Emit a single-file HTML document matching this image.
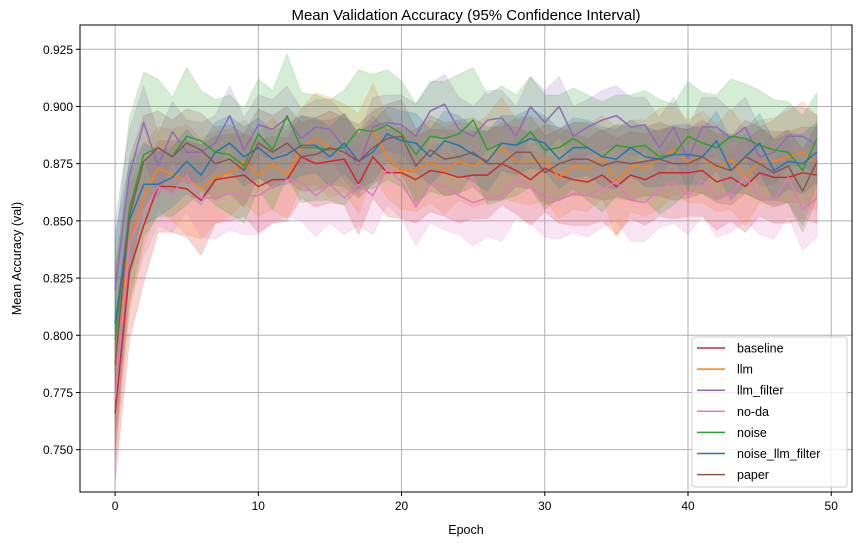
<!DOCTYPE html>
<html><head><meta charset="utf-8"><style>
body{margin:0;background:#fff;}
svg{display:block;font-family:"Liberation Sans","DejaVu Sans",sans-serif;}
</style></head><body>
<svg id="chart" width="863" height="547" viewBox="0 0 863 547" xmlns="http://www.w3.org/2000/svg"></svg>
<script>
const epochs = Array.from({length:50},(_,i)=>i);
const seriesNames = ["baseline","llm","llm_filter","no-da","noise","noise_llm_filter","paper"];
const seriesColors = ["#d62728","#ff7f0e","#9467bd","#e377c2","#2ca02c","#1f77b4","#8c564b"];
const baseline = [0.766,0.828,0.848,0.865,0.865,0.864,0.859,0.868,0.869,0.870,0.865,0.868,0.868,0.878,0.875,0.876,0.877,0.866,0.878,0.871,0.871,0.868,0.872,0.871,0.869,0.870,0.870,0.875,0.872,0.868,0.873,0.870,0.868,0.867,0.870,0.865,0.870,0.868,0.871,0.871,0.871,0.872,0.867,0.869,0.865,0.871,0.869,0.869,0.871,0.870];
const llm = [0.790,0.840,0.861,0.873,0.870,0.868,0.864,0.869,0.871,0.876,0.870,0.875,0.870,0.882,0.886,0.882,0.882,0.875,0.890,0.878,0.872,0.872,0.876,0.872,0.876,0.874,0.877,0.882,0.876,0.876,0.877,0.869,0.874,0.873,0.878,0.867,0.874,0.873,0.877,0.881,0.876,0.878,0.873,0.877,0.869,0.876,0.876,0.878,0.880,0.875];
const llmFilter = [0.820,0.870,0.893,0.874,0.889,0.880,0.880,0.884,0.896,0.881,0.892,0.890,0.895,0.886,0.891,0.890,0.882,0.874,0.891,0.893,0.892,0.887,0.898,0.901,0.890,0.887,0.894,0.895,0.887,0.900,0.893,0.900,0.887,0.891,0.894,0.896,0.891,0.892,0.882,0.891,0.877,0.891,0.891,0.886,0.891,0.878,0.880,0.887,0.887,0.883];
const noDa = [0.772,0.840,0.855,0.865,0.862,0.870,0.860,0.860,0.862,0.861,0.861,0.865,0.868,0.867,0.861,0.866,0.860,0.866,0.861,0.873,0.867,0.856,0.866,0.865,0.861,0.858,0.860,0.861,0.868,0.865,0.861,0.859,0.862,0.861,0.864,0.867,0.859,0.858,0.864,0.867,0.861,0.868,0.860,0.862,0.869,0.861,0.859,0.869,0.855,0.860];
const noise = [0.798,0.855,0.879,0.882,0.878,0.887,0.885,0.880,0.879,0.874,0.888,0.881,0.896,0.882,0.882,0.881,0.882,0.890,0.889,0.892,0.888,0.879,0.887,0.886,0.888,0.894,0.881,0.884,0.883,0.889,0.881,0.882,0.886,0.882,0.878,0.883,0.882,0.883,0.878,0.879,0.887,0.884,0.882,0.887,0.886,0.883,0.881,0.880,0.872,0.886];
const noiseLlmFilter = [0.805,0.850,0.866,0.866,0.869,0.876,0.870,0.880,0.884,0.878,0.882,0.877,0.879,0.883,0.883,0.878,0.884,0.876,0.880,0.888,0.885,0.884,0.878,0.885,0.883,0.879,0.876,0.884,0.883,0.886,0.884,0.877,0.882,0.882,0.878,0.877,0.882,0.878,0.877,0.879,0.879,0.878,0.885,0.872,0.878,0.884,0.872,0.876,0.875,0.880];
const paper = [0.787,0.852,0.876,0.882,0.878,0.884,0.881,0.875,0.877,0.872,0.884,0.880,0.884,0.878,0.879,0.882,0.880,0.876,0.882,0.886,0.887,0.874,0.881,0.877,0.878,0.880,0.875,0.875,0.880,0.880,0.871,0.875,0.877,0.877,0.874,0.876,0.875,0.876,0.877,0.875,0.875,0.878,0.874,0.872,0.878,0.875,0.871,0.874,0.863,0.876];
const baselineCi = [0.030,0.030,0.025,0.020,0.020,0.021,0.024,0.019,0.019,0.018,0.020,0.019,0.018,0.018,0.019,0.018,0.020,0.022,0.018,0.019,0.020,0.019,0.018,0.019,0.020,0.019,0.019,0.018,0.019,0.020,0.019,0.021,0.020,0.019,0.020,0.021,0.019,0.020,0.019,0.020,0.019,0.020,0.021,0.019,0.020,0.019,0.020,0.020,0.020,0.021];
const llmCi = [0.040,0.030,0.022,0.018,0.020,0.024,0.022,0.020,0.019,0.018,0.018,0.020,0.019,0.017,0.020,0.022,0.019,0.022,0.020,0.018,0.017,0.018,0.018,0.019,0.017,0.018,0.019,0.022,0.018,0.019,0.018,0.018,0.019,0.019,0.018,0.024,0.020,0.021,0.022,0.019,0.018,0.020,0.019,0.022,0.021,0.018,0.019,0.020,0.022,0.021];
const llmFilterCi = [0.030,0.020,0.016,0.014,0.013,0.014,0.013,0.012,0.013,0.014,0.013,0.013,0.014,0.013,0.012,0.013,0.014,0.013,0.013,0.012,0.013,0.014,0.012,0.013,0.014,0.013,0.013,0.012,0.013,0.013,0.014,0.013,0.013,0.012,0.013,0.013,0.013,0.012,0.013,0.013,0.014,0.013,0.013,0.012,0.013,0.013,0.014,0.013,0.013,0.013];
const noDaCi = [0.030,0.026,0.020,0.017,0.017,0.016,0.017,0.018,0.016,0.017,0.017,0.016,0.016,0.017,0.018,0.017,0.016,0.018,0.017,0.016,0.016,0.017,0.017,0.019,0.017,0.019,0.017,0.020,0.017,0.016,0.018,0.017,0.017,0.018,0.017,0.017,0.018,0.017,0.017,0.018,0.017,0.016,0.017,0.017,0.019,0.017,0.017,0.017,0.018,0.017];
const noiseCi = [0.040,0.040,0.036,0.030,0.026,0.030,0.022,0.023,0.026,0.025,0.024,0.026,0.027,0.024,0.023,0.022,0.025,0.026,0.025,0.024,0.023,0.022,0.024,0.025,0.026,0.023,0.024,0.025,0.022,0.024,0.024,0.023,0.022,0.023,0.024,0.022,0.023,0.024,0.025,0.022,0.024,0.022,0.023,0.025,0.024,0.024,0.022,0.022,0.024,0.020];
const noiseLlmFilterCi = [0.040,0.025,0.018,0.014,0.013,0.014,0.013,0.013,0.012,0.013,0.013,0.012,0.013,0.013,0.012,0.013,0.013,0.012,0.013,0.012,0.013,0.013,0.012,0.013,0.013,0.012,0.013,0.012,0.013,0.013,0.012,0.013,0.013,0.012,0.013,0.013,0.012,0.013,0.012,0.013,0.013,0.012,0.013,0.013,0.012,0.013,0.013,0.012,0.013,0.013];
const paperCi = [0.040,0.025,0.020,0.016,0.016,0.015,0.016,0.016,0.015,0.016,0.015,0.016,0.016,0.015,0.016,0.016,0.015,0.016,0.016,0.015,0.016,0.016,0.015,0.016,0.016,0.015,0.016,0.016,0.015,0.016,0.016,0.015,0.016,0.016,0.015,0.016,0.016,0.015,0.016,0.016,0.015,0.016,0.016,0.015,0.016,0.016,0.015,0.016,0.018,0.016];
const seriesValues = [baseline,llm,llmFilter,noDa,noise,noiseLlmFilter,paper];
const seriesCi = [baselineCi,llmCi,llmFilterCi,noDaCi,noiseCi,noiseLlmFilterCi,paperCi];
const xTicks = [0,10,20,30,40,50];
const yTicks = [0.750,0.775,0.800,0.825,0.850,0.875,0.900,0.925];
const yTickLabels = ["0.750","0.775","0.800","0.825","0.850","0.875","0.900","0.925"];

const NS="http://www.w3.org/2000/svg";
const svg=document.getElementById('chart');
const L=80,R=852,T=25,B=492;
const xMin=-2.45,xMax=51.45,yMin=0.7315,yMax=0.9356;
const xs=v=>L+(v-xMin)/(xMax-xMin)*(R-L);
const ys=v=>B-(v-yMin)/(yMax-yMin)*(B-T);
function mk(tag,attrs,parent){const e=document.createElementNS(NS,tag);for(const k in attrs)e.setAttribute(k,attrs[k]);(parent||svg).appendChild(e);return e;}

const grid=mk('g',{});


xTicks.forEach(t=>{const l=mk('line',{x1:xs(t),x2:xs(t),y1:T,y2:B,stroke:'#b0b0b0','stroke-width':1},grid);

});
yTicks.forEach(t=>{const l=mk('line',{x1:L,x2:R,y1:ys(t),y2:ys(t),stroke:'#b0b0b0','stroke-width':1},grid);

});

const bands=mk('g',{});


const lines=mk('g',{});


seriesValues.forEach((vals,si)=>{
  const ci=seriesCi[si];
  let up=epochs.map(e=>xs(e)+','+ys(vals[e]+ci[e]));
  let lo=epochs.slice().reverse().map(e=>xs(e)+','+ys(vals[e]-ci[e]));
  const band=mk('polygon',{points:up.concat(lo).join(' '),fill:seriesColors[si],'fill-opacity':0.2,stroke:seriesColors[si],'stroke-opacity':0.15,'stroke-width':1},bands);
  
  
  const line=mk('polyline',{points:epochs.map(e=>xs(e)+','+ys(vals[e])).join(' '),fill:'none',stroke:seriesColors[si],'stroke-width':1.5,'stroke-linejoin':'round'},lines);
  
  
});

const frame=mk('rect',{x:L,y:T,width:R-L,height:B-T,fill:'none',stroke:'#000','stroke-width':1});



xTicks.forEach(t=>{
  mk('line',{x1:xs(t),x2:xs(t),y1:B,y2:B+4,stroke:'#000'});
  const tx=mk('text',{x:xs(t),y:B+18,'text-anchor':'middle','font-size':12,fill:'#000'});
  tx.textContent=t;
  
  
});
yTicks.forEach((t,i)=>{
  mk('line',{x1:L-4,x2:L,y1:ys(t),y2:ys(t),stroke:'#000'});
  const tx=mk('text',{x:L-7,y:ys(t)+4.5,'text-anchor':'end','font-size':12,fill:'#000'});
  tx.textContent=yTickLabels[i];
  
  
});

const title=mk('text',{x:(L+R)/2,y:20,'text-anchor':'middle','font-size':15,fill:'#000'});
title.textContent='Mean Validation Accuracy (95% Confidence Interval)';


const xl=mk('text',{x:(L+R)/2,y:534,'text-anchor':'middle','font-size':12.5,fill:'#000'});
xl.textContent='Epoch';


const yl=mk('text',{x:0,y:0,'text-anchor':'middle','font-size':12.5,fill:'#000',transform:'translate(21,'+((T+B)/2)+') rotate(-90)'});
yl.textContent='Mean Accuracy (val)';



const lg=mk('g',{});


mk('rect',{x:692,y:337,width:155,height:150,rx:3,fill:'#fff','fill-opacity':0.8,stroke:'#ccc'},lg);
seriesNames.forEach((n,i)=>{
  const y=348+i*21.1;
  const it=mk('g',{},lg);
  
  
  mk('line',{x1:697,x2:725,y1:y,y2:y,stroke:seriesColors[i],'stroke-width':1.5},it);
  const t=mk('text',{x:737,y:y+4.5,'font-size':12.5,fill:'#000'},it);
  t.textContent=n;
});
</script>
</body></html>
